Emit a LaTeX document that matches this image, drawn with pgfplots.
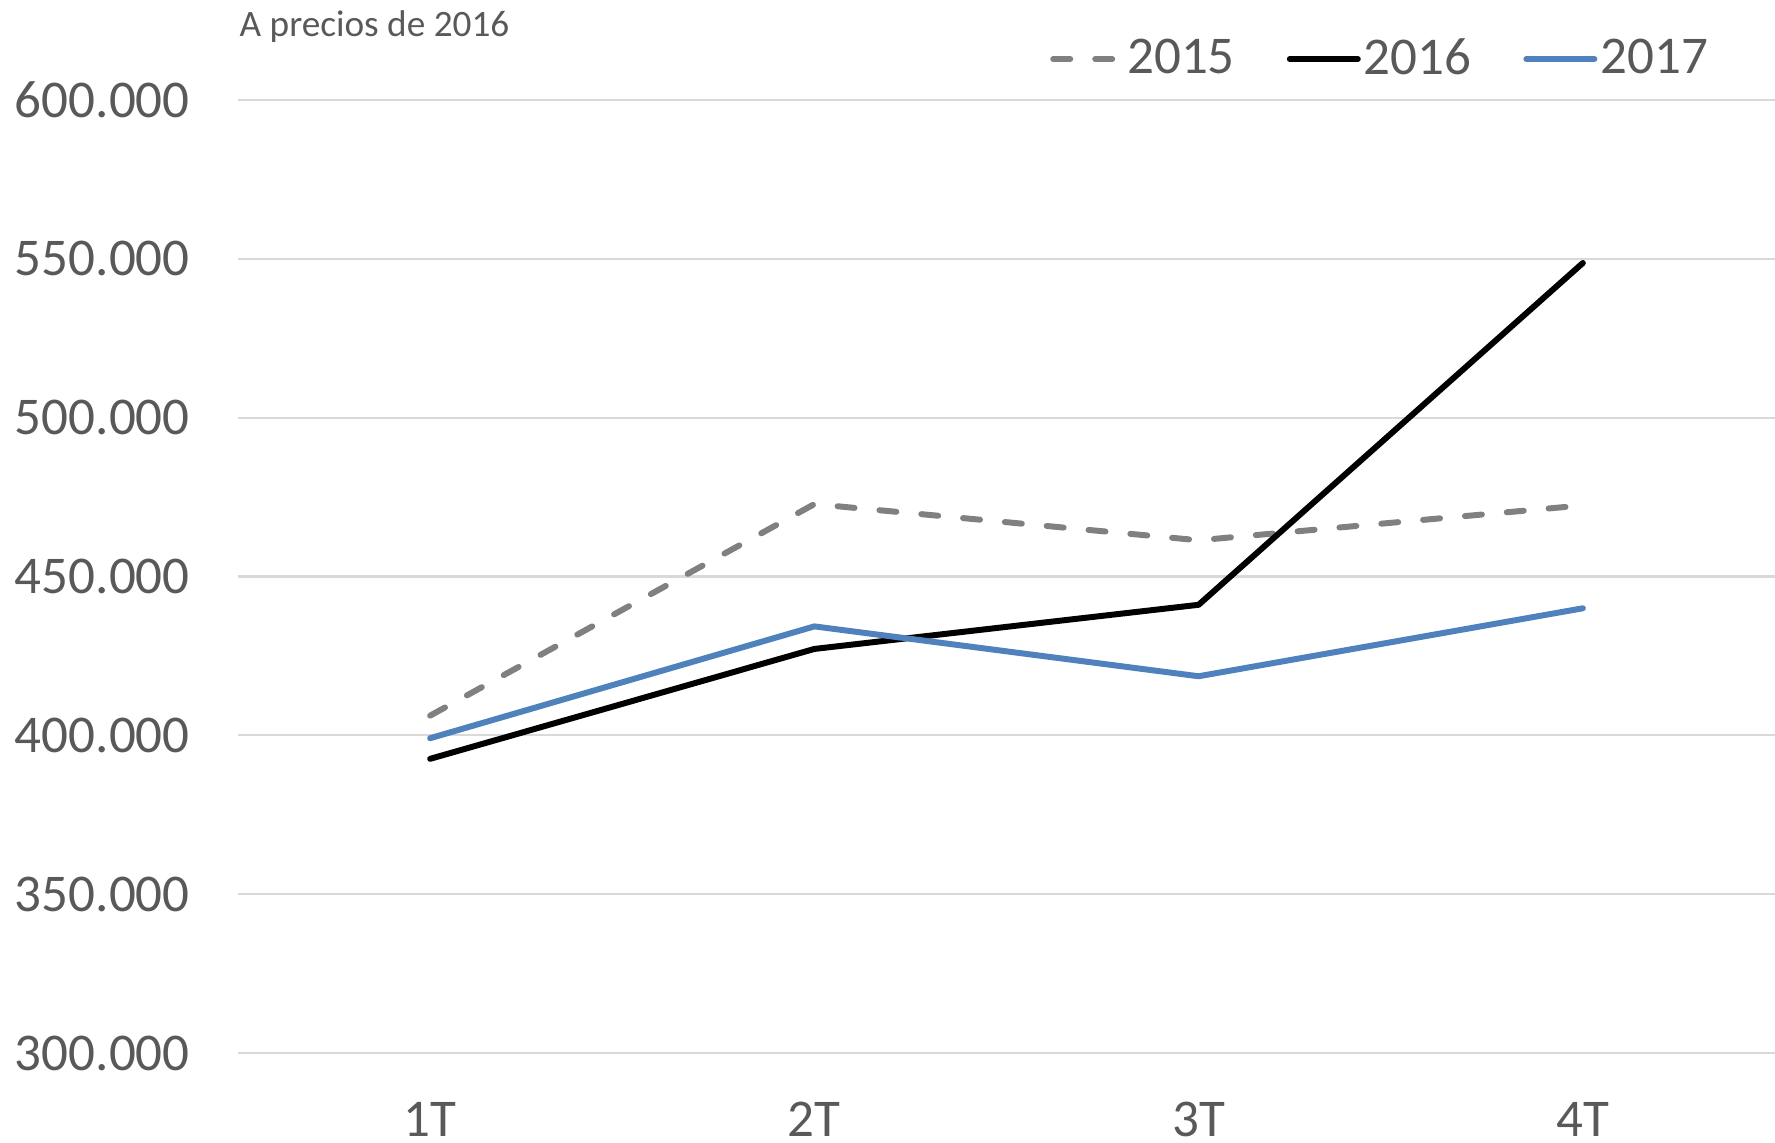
\documentclass[border=0pt]{standalone}
\usepackage{fontspec}
\setmainfont{Carlito}
\usepackage{pgfplots}
\pgfplotsset{compat=1.18}

\definecolor{txtgray}{HTML}{595959}
\definecolor{gridgray}{HTML}{D9D9D9}
\definecolor{s15}{HTML}{808080}
\definecolor{s17}{HTML}{4F81BD}

\begin{document}
\begin{tikzpicture}
\begin{axis}[
    scale only axis,
    width=153.7mm, height=95.3mm,
    xmin=-0.5, xmax=3.5,
    ymin=300000, ymax=600000,
    xtick={0,1,2,3},
    xticklabels={1T,2T,3T,4T},
    ytick={300000,350000,400000,450000,500000,550000,600000},
    scaled y ticks=false,
    yticklabel={\pgfmathprintnumber[fixed,precision=0,1000 sep={.},assume math mode=true]{\tick}},
    ymajorgrids,
    grid style={gridgray, line width=0.6pt},
    axis line style={draw=none},
    major tick length=0pt,
    tick label style={font=\fontsize{15.1}{18}\selectfont, text=txtgray, inner sep=0pt},
    yticklabel style={anchor=east, xshift=-4.76mm},
    xticklabel style={anchor=base, yshift=-8.3mm},
    legend columns=3,
    legend style={
        at={(0.528,1.043)}, anchor=west,
        draw=none, fill=none, inner sep=0pt,
        font=\fontsize{15.1}{18}\selectfont, text=txtgray,
        nodes={inner sep=0pt},
        /tikz/every odd column/.style={column sep=0.3mm},
        /tikz/every even column/.style={column sep=5.2mm},
    },
    legend image code/.code={\draw[#1] (0mm,0mm) -- (6.8mm,0mm);},
    every axis plot/.append style={line width=1.7pt, line cap=round, line join=round},
]
\addplot[s15, dash pattern=on 1.7mm off 2.5mm] coordinates {
    (0,406200) (1,472800) (2,461400) (3,472400)};
\addlegendentry{2015}
\addplot[black] coordinates {
    (0,392600) (1,427200) (2,441100) (3,548700)};
\addlegendentry{2016}
\addplot[s17] coordinates {
    (0,399100) (1,434300) (2,418600) (3,440000)};
\addlegendentry{2017}
\end{axis}
\node[anchor=base west, inner sep=0pt, text=txtgray, font=\fontsize{10.6}{12}\selectfont] at (0.1mm,101.6mm) {A precios de 2016};
\pgfresetboundingbox
\useasboundingbox (-23.8mm,-8.9mm) rectangle (153.7mm,105.3mm);
\end{tikzpicture}
\end{document}
